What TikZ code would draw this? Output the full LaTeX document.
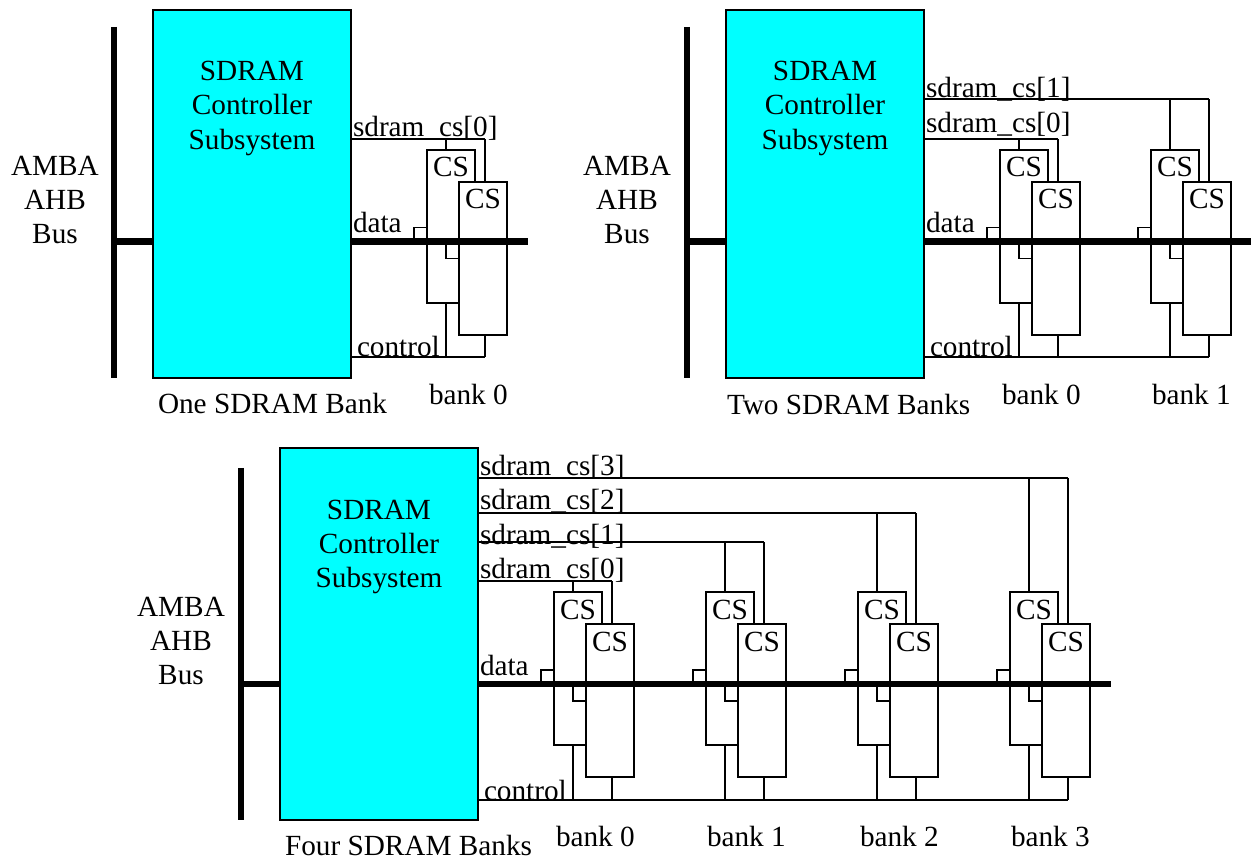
\documentclass[tikz,border=0pt]{standalone}
\usepackage{fontspec}
\setmainfont{Liberation Serif}
\definecolor{ctrlcyan}{RGB}{0,255,255}
\tikzset{
  x=1pt,y=-1pt,
  wire/.style={draw=black,line width=1.5pt},
  busline/.style={draw=black,line width=6.5pt},
  ahbline/.style={draw=black,line width=6pt},
  ctrlbox/.style={draw=black,line width=1.6pt,fill=ctrlcyan,rectangle,anchor=north west,inner sep=0pt,outer sep=0pt,minimum width=198pt,minimum height=368pt},
  chipback/.style={draw=black,line width=1.5pt,fill=white,rectangle,anchor=north west,inner sep=0pt,outer sep=0pt,minimum width=48pt,minimum height=153pt},
  chipfront/.style={chipback},
  txt/.style={font=\fontsize{29.25}{34}\selectfont,inner sep=0pt,outer sep=0pt,anchor=base west},
  ctxt/.style={txt,anchor=base,align=center},
}
% #1 name, #2 x of back chip, #3 y of back chip, #4 y of cs line, #5 bus y, #6 control y
\newcommand{\bankchips}[6]{%
  \node[chipback] (#1b) at (#2,#3) {};
  \draw[wire] (#2+19,#4) coordinate (#1cs) -- (#1b.north west -| #1cs);
  \node[chipfront] (#1f) at (#2+32,#3+32) {};
  \coordinate (#1bu) at (#2-13,#5);
  \coordinate (#1fu) at (#2+19,#5);
  \coordinate (#1csf) at (#2+58,#4);
  \coordinate (#1bs) at (#2+19,#6);
  \coordinate (#1fs) at (#2+58,#6);
  \draw[wire] (#1csf) -- (#1csf |- #1f.north);
  \draw[wire] (#1bu) |- (#2,#5-14) coordinate (#1bt);
  \draw[wire] (#1fu) |- (#2+32,#5+17) coordinate (#1ft);
  \draw[wire] (#1bs) -- (#1bs |- #1b.south);
  \draw[wire] (#1fs) -- (#1fs |- #1f.south);
  \node[ctxt] (#1tb) at (#2+24,#3+27) {CS};
  \node[ctxt] (#1tf) at (#2+56,#3+59) {CS};
}
\begin{document}
\begin{tikzpicture}
\useasboundingbox (0,0) rectangle (1251,858);
% ---------- panel A
\node[ctrlbox] (actrl) at (153,10) {};
\coordinate (aat) at (114,27);
\coordinate (aab) at (114,378);
\coordinate (aas) at (116,241.7);
\draw[ahbline] (aat) -- (aab);
\draw[busline] (aas) -- (aas -| actrl.west);
\draw[wire] (351,139) coordinate (acs0) -- (485,139) coordinate (acs0e);
\draw[wire] (351,357) coordinate (acn) -- (485,357) coordinate (acne);
\bankchips{a0}{427}{150}{139}{241.5}{357}
\coordinate (abe) at (528,241.5);
\draw[busline] (abe -| actrl.east) -- (abe);
\node[ctxt] (at1) at (252,81) {SDRAM};
\node[ctxt] (at2) at (252,115) {Controller};
\node[ctxt] (at3) at (252,149.5) {Subsystem};
\node[ctxt] (at4) at (55,175.5) {AMBA};
\node[ctxt] (at5) at (55,209.5) {AHB};
\node[ctxt] (at6) at (55,243.5) {Bus};
\node[txt] (al1) at (353,136.5) {sdram\_cs[0]};
\node[txt] (al2) at (353,233) {data};
\node[txt] (al3) at (357,357) {control};
\node[txt] (al4) at (158,414) {One SDRAM Bank};
\node[txt] (al5) at (429,404.5) {bank 0};
% ---------- panel B
\node[ctrlbox] (bctrl) at (726,10) {};
\coordinate (bat) at (687,27);
\coordinate (bab) at (687,378);
\coordinate (bas) at (689,241.7);
\draw[ahbline] (bat) -- (bab);
\draw[busline] (bas) -- (bas -| bctrl.west);
\draw[wire] (924,139) coordinate (bcs0) -- (1058,139) coordinate (bcs0e);
\draw[wire] (924,99) coordinate (bcs1) -- (1209,99) coordinate (bcs1e);
\draw[wire] (924,357) coordinate (bcn) -- (1209,357) coordinate (bcne);
\bankchips{b0}{1000}{150}{139}{241.5}{357}
\bankchips{b1}{1151}{150}{99}{241.5}{357}
\coordinate (bbe) at (1251,241.5);
\draw[busline] (bbe -| bctrl.east) -- (bbe);
\node[ctxt] (bt1) at (825,81) {SDRAM};
\node[ctxt] (bt2) at (825,115) {Controller};
\node[ctxt] (bt3) at (825,149.5) {Subsystem};
\node[ctxt] (bt4) at (627,175.5) {AMBA};
\node[ctxt] (bt5) at (627,209.5) {AHB};
\node[ctxt] (bt6) at (627,243.5) {Bus};
\node[txt] (bl0) at (926,98) {sdram\_cs[1]};
\node[txt] (bl1) at (926,132.5) {sdram\_cs[0]};
\node[txt] (bl2) at (926,233) {data};
\node[txt] (bl3) at (930,357) {control};
\node[txt] (bl4) at (727,414.5) {Two SDRAM Banks};
\node[txt] (bl5) at (1002,404.5) {bank 0};
\node[txt] (bl6) at (1152,404.5) {bank 1};
% ---------- panel C
\node[ctrlbox,minimum height=372pt] (cctrl) at (280,448) {};
\coordinate (cat) at (241,468);
\coordinate (cab) at (241,820);
\coordinate (cas) at (243,684);
\draw[ahbline] (cat) -- (cab);
\draw[busline] (cas) -- (cas -| cctrl.west);
\draw[wire] (478,581) coordinate (ccs0) -- (612,581) coordinate (ccs0e);
\draw[wire] (478,542) coordinate (ccs1) -- (764,542) coordinate (ccs1e);
\draw[wire] (478,513) coordinate (ccs2) -- (916,513) coordinate (ccs2e);
\draw[wire] (478,478) coordinate (ccs3) -- (1068,478) coordinate (ccs3e);
\draw[wire] (478,800) coordinate (ccn) -- (1068,800) coordinate (ccne);
\bankchips{c0}{554}{592}{581}{684}{800}
\bankchips{c1}{706}{592}{542}{684}{800}
\bankchips{c2}{858}{592}{513}{684}{800}
\bankchips{c3}{1010}{592}{478}{684}{800}
\coordinate (cbe) at (1111,684);
\draw[busline] (cbe -| cctrl.east) -- (cbe);
\node[ctxt] (ct1) at (379,519) {SDRAM};
\node[ctxt] (ct2) at (379,553) {Controller};
\node[ctxt] (ct3) at (379,587.5) {Subsystem};
\node[ctxt] (ct4) at (181,616.5) {AMBA};
\node[ctxt] (ct5) at (181,650.5) {AHB};
\node[ctxt] (ct6) at (181,684.5) {Bus};
\node[txt] (cl0) at (480,476) {sdram\_cs[3]};
\node[txt] (cl1) at (480,510) {sdram\_cs[2]};
\node[txt] (cl2) at (480,544) {sdram\_cs[1]};
\node[txt] (cl3) at (480,578) {sdram\_cs[0]};
\node[txt] (cl4) at (480,675) {data};
\node[txt] (cl5) at (484,800) {control};
\node[txt] (cl6) at (285,855.5) {Four SDRAM Banks};
\node[txt] (cl7) at (556,846) {bank 0};
\node[txt] (cl8) at (707,846) {bank 1};
\node[txt] (cl9) at (860,846) {bank 2};
\node[txt] (cl10) at (1011,846) {bank 3};
\end{tikzpicture}
\end{document}
